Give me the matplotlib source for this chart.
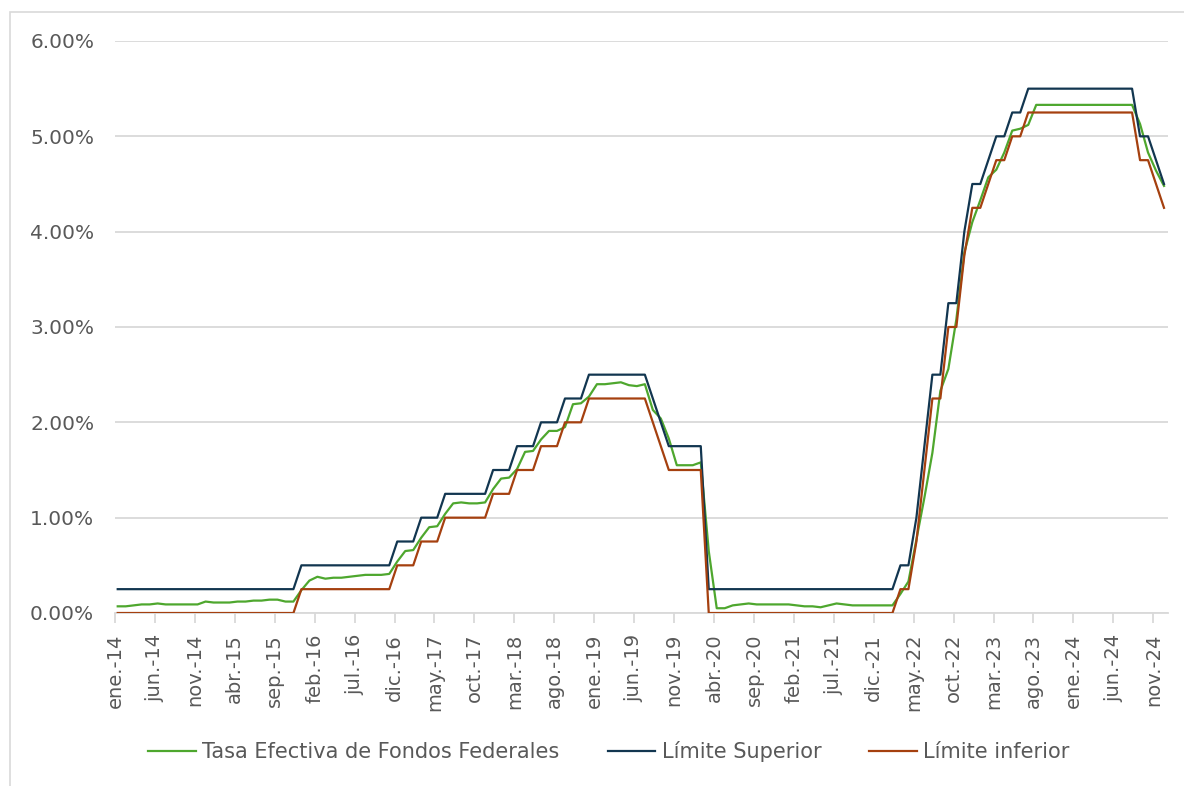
import matplotlib
matplotlib.use("Agg")
import matplotlib.pyplot as plt
from matplotlib.patches import Rectangle

# ---- data (monthly, ene-2014 .. dic-2024) ----
meses = ["ene.", "feb.", "mar.", "abr.", "may.", "jun.", "jul.", "ago.", "sep.", "oct.", "nov.", "dic."]
anios = list(range(2014, 2025))

tasa_efectiva = [
    0.07, 0.07, 0.08, 0.09, 0.09, 0.10, 0.09, 0.09, 0.09, 0.09, 0.09, 0.12,   # 2014
    0.11, 0.11, 0.11, 0.12, 0.12, 0.13, 0.13, 0.14, 0.14, 0.12, 0.12, 0.24,   # 2015
    0.34, 0.38, 0.36, 0.37, 0.37, 0.38, 0.39, 0.40, 0.40, 0.40, 0.41, 0.54,   # 2016
    0.65, 0.66, 0.79, 0.90, 0.91, 1.04, 1.15, 1.16, 1.15, 1.15, 1.16, 1.30,   # 2017
    1.41, 1.42, 1.51, 1.69, 1.70, 1.82, 1.91, 1.91, 1.95, 2.19, 2.20, 2.27,   # 2018
    2.40, 2.40, 2.41, 2.42, 2.39, 2.38, 2.40, 2.13, 2.04, 1.83, 1.55, 1.55,   # 2019
    1.55, 1.58, 0.65, 0.05, 0.05, 0.08, 0.09, 0.10, 0.09, 0.09, 0.09, 0.09,   # 2020
    0.09, 0.08, 0.07, 0.07, 0.06, 0.08, 0.10, 0.09, 0.08, 0.08, 0.08, 0.08,   # 2021
    0.08, 0.08, 0.20, 0.33, 0.77, 1.21, 1.68, 2.33, 2.56, 3.08, 3.78, 4.10,   # 2022
    4.33, 4.57, 4.65, 4.83, 5.06, 5.08, 5.12, 5.33, 5.33, 5.33, 5.33, 5.33,   # 2023
    5.33, 5.33, 5.33, 5.33, 5.33, 5.33, 5.33, 5.33, 5.13, 4.83, 4.64, 4.48,   # 2024
]

limite_superior = [
    0.25, 0.25, 0.25, 0.25, 0.25, 0.25, 0.25, 0.25, 0.25, 0.25, 0.25, 0.25,   # 2014
    0.25, 0.25, 0.25, 0.25, 0.25, 0.25, 0.25, 0.25, 0.25, 0.25, 0.25, 0.50,   # 2015
    0.50, 0.50, 0.50, 0.50, 0.50, 0.50, 0.50, 0.50, 0.50, 0.50, 0.50, 0.75,   # 2016
    0.75, 0.75, 1.00, 1.00, 1.00, 1.25, 1.25, 1.25, 1.25, 1.25, 1.25, 1.50,   # 2017
    1.50, 1.50, 1.75, 1.75, 1.75, 2.00, 2.00, 2.00, 2.25, 2.25, 2.25, 2.50,   # 2018
    2.50, 2.50, 2.50, 2.50, 2.50, 2.50, 2.50, 2.25, 2.00, 1.75, 1.75, 1.75,   # 2019
    1.75, 1.75, 0.25, 0.25, 0.25, 0.25, 0.25, 0.25, 0.25, 0.25, 0.25, 0.25,   # 2020
    0.25, 0.25, 0.25, 0.25, 0.25, 0.25, 0.25, 0.25, 0.25, 0.25, 0.25, 0.25,   # 2021
    0.25, 0.25, 0.50, 0.50, 1.00, 1.75, 2.50, 2.50, 3.25, 3.25, 4.00, 4.50,   # 2022
    4.50, 4.75, 5.00, 5.00, 5.25, 5.25, 5.50, 5.50, 5.50, 5.50, 5.50, 5.50,   # 2023
    5.50, 5.50, 5.50, 5.50, 5.50, 5.50, 5.50, 5.50, 5.00, 5.00, 4.75, 4.50,   # 2024
]

limite_inferior = [
    0.00, 0.00, 0.00, 0.00, 0.00, 0.00, 0.00, 0.00, 0.00, 0.00, 0.00, 0.00,   # 2014
    0.00, 0.00, 0.00, 0.00, 0.00, 0.00, 0.00, 0.00, 0.00, 0.00, 0.00, 0.25,   # 2015
    0.25, 0.25, 0.25, 0.25, 0.25, 0.25, 0.25, 0.25, 0.25, 0.25, 0.25, 0.50,   # 2016
    0.50, 0.50, 0.75, 0.75, 0.75, 1.00, 1.00, 1.00, 1.00, 1.00, 1.00, 1.25,   # 2017
    1.25, 1.25, 1.50, 1.50, 1.50, 1.75, 1.75, 1.75, 2.00, 2.00, 2.00, 2.25,   # 2018
    2.25, 2.25, 2.25, 2.25, 2.25, 2.25, 2.25, 2.00, 1.75, 1.50, 1.50, 1.50,   # 2019
    1.50, 1.50, 0.00, 0.00, 0.00, 0.00, 0.00, 0.00, 0.00, 0.00, 0.00, 0.00,   # 2020
    0.00, 0.00, 0.00, 0.00, 0.00, 0.00, 0.00, 0.00, 0.00, 0.00, 0.00, 0.00,   # 2021
    0.00, 0.00, 0.25, 0.25, 0.75, 1.50, 2.25, 2.25, 3.00, 3.00, 3.75, 4.25,   # 2022
    4.25, 4.50, 4.75, 4.75, 5.00, 5.00, 5.25, 5.25, 5.25, 5.25, 5.25, 5.25,   # 2023
    5.25, 5.25, 5.25, 5.25, 5.25, 5.25, 5.25, 5.25, 4.75, 4.75, 4.50, 4.25,   # 2024
]

series_nombres = ["Tasa Efectiva de Fondos Federales", "Límite Superior", "Límite inferior"]
y_ticks = [0, 1, 2, 3, 4, 5, 6]

# ---- derived ----
etiquetas = [f"{m}-{str(a)[2:]}" for a in anios for m in meses]
n = len(etiquetas)
x = list(range(n))
tick_idx = list(range(0, n, 5))

plt.rcParams['font.family'] = ['DejaVu Sans']
fig = plt.figure(figsize=(11.84, 7.86), dpi=100)
W, H = 1184, 786
ax = fig.add_axes([115 / W, (H - 613) / H, (1168 - 115) / W, (613 - 41) / H])

c_green = "#4EA72E"
c_navy = "#123650"
c_brown = "#A5400F"
lw = 1.6

ax.plot(x, tasa_efectiva, color=c_green, lw=lw, label=series_nombres[0], zorder=3)
ax.plot(x, limite_superior, color=c_navy, lw=lw, label=series_nombres[1], zorder=4)
ax.plot(x, limite_inferior, color=c_brown, lw=lw, label=series_nombres[2], zorder=4)

off = 0.34
ax.set_xlim(-off, n - 1 + 0.5)
ax.set_ylim(0, 6)
ax.set_yticks(y_ticks)
ax.set_yticklabels([f"{v:.2f}%" for v in y_ticks])
ax.set_xticks([i - off for i in tick_idx])
ax.set_xticklabels([etiquetas[i] for i in tick_idx], rotation=90)

ax.grid(axis="y", color="#D9D9D9", lw=1.3, zorder=0)
ax.set_axisbelow(True)
for s in ["top", "right", "left"]:
    ax.spines[s].set_visible(False)
ax.spines["bottom"].set_color("#D9D9D9")
ax.spines["bottom"].set_linewidth(1.3)

ax.tick_params(axis="y", length=0, pad=15, labelsize=14.5, labelcolor="#595959")
ax.tick_params(axis="x", length=7, width=1.3, color="#D9D9D9", pad=8,
               labelsize=14, labelcolor="#595959")

leg = fig.legend(loc="center", bbox_to_anchor=(609 / W, (H - 752) / H), ncol=3,
                 frameon=False, fontsize=15, handlelength=2.3, columnspacing=2.3,
                 handletextpad=0.3, labelcolor="#595959")

# chart-area border (left and top edges visible)
fig.patches.append(Rectangle((10 / W, -0.1), 1.2, (H - 12) / H + 0.1, transform=fig.transFigure,
                             fill=False, edgecolor="#D9D9D9", lw=1.2, zorder=0))

fig.savefig("out.png", dpi=100)
